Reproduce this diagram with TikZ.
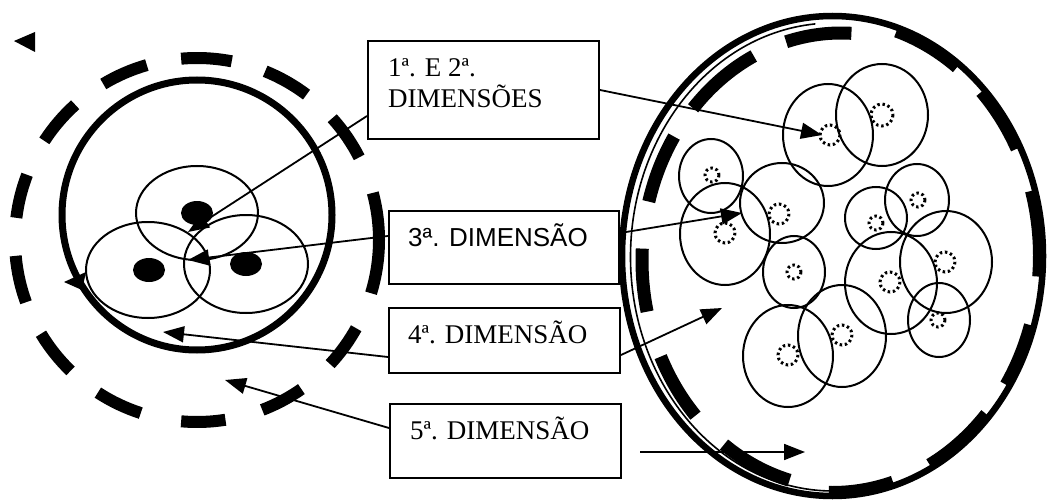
\documentclass[tikz,border=0pt]{standalone}
\usepackage{fontspec}
\setmainfont{Liberation Serif}
\newfontfamily\arialfont{Liberation Sans}
\usetikzlibrary{arrows.meta}
\begin{document}
\begin{tikzpicture}[x=1pt,y=-1pt,
  box/.style={draw, line width=2pt, rectangle, inner sep=0pt, anchor=north west, fill=white},
  lbl/.style={anchor=base west, inner sep=0pt, font=\fontsize{27}{31}\selectfont},
  slbl/.style={anchor=base west, inner sep=0pt, font=\arialfont\fontsize{26}{30}\selectfont},
  conn/.style={line width=1.8pt, -{Triangle[length=21pt,width=16pt]}},
  cell/.style={line width=2pt},
  nucleus/.style={line width=3pt, dash pattern=on 2.4pt off 2.8pt},
  thickring/.style={line width=7pt},
  ring/.style={line width=12pt},
  ringR/.style={line width=13pt},
]
\useasboundingbox (0,0) rectangle (1047,500);

% ---------- left figure ----------
\draw[thickring] (197,215) circle[radius=135];
\foreach \a/\b in {79/95, 53/68, 27/42, -17/15, -43/-29, -69/-55, -95/-81, -123/-108, -149/-134, 185/200, 159/173, 132/147, 106/121}
  \draw[ring] (197,240) ++(-\a:182) arc[start angle=-\a, end angle=-\b, radius=182];
\draw[cell] (197,213) ellipse[x radius=61, y radius=47];
\draw[cell] (148,270) ellipse[x radius=62, y radius=48];
\draw[cell] (246,264) ellipse[x radius=62, y radius=49];
\fill (197,213) ellipse[x radius=16, y radius=12];
\fill (149,270) ellipse[x radius=16, y radius=12];
\fill (246,264) ellipse[x radius=16, y radius=12];
\fill (14,41) -- (35,32) -- (35,52) -- cycle;
\fill (64,282) -- (86,272) -- (82,290) -- cycle;

% ---------- right figure ----------
\draw[line width=6.5pt] (832.5,256) ellipse[x radius=210.5, y radius=240];
\draw[line width=1.6pt] (833,257) ++(-95:202.5 and 234) arc[start angle=-95, end angle=-282, x radius=202.5, y radius=234];
% dashes standing free inside the ring
\foreach \a/\b in {87/106, 116/138, 147/165, 177/193, -155/-137, -126/-105}
  \draw[ringR] (841,260.5) ++(-\a:199 and 227.5) arc[start angle=-\a, end angle=-\b, x radius=199, y radius=227.5];
% dashes joined to the ring
\foreach \a/\b in {53/72, 27/44, -5/16, -33/-17, -62/-42, -91/-73}
  \draw[line width=11pt] (832.5,256) ++(-\a:206 and 235.5) arc[start angle=-\a, end angle=-\b, x radius=206, y radius=235.5];

% cells: centre x, centre y, rx, ry, nucleus x, nucleus y, nucleus r
\foreach \cx/\cy/\rx/\ry/\nx/\ny/\nr in {
  828/135/45/51/830/135/10,
  882/115/46/51/882/115/11,
  711/176/32/37/712/175/7,
  725/234/45/51/725/233/10,
  782/203/42/40/779/214/10,
  794/272/31/36/794/272/7,
  788/356/45/51/788/355/10,
  842/336/44/51/842/335/10,
  891/283/46/51/890/282/10,
  876/218/31/31/876/223/7,
  917/200/32/36/918/200/7,
  946/262/46/51/945/262/10,
  939/320/31/37/938/320/7}
{
  \draw[cell] (\cx,\cy) ellipse[x radius=\rx, y radius=\ry];
  \draw[nucleus] (\nx,\ny) circle[radius=\nr];
}

% ---------- boxes ----------
\node[box, minimum width=231pt, minimum height=98pt] (b1) at (367,40) {};
\node[box, minimum width=230pt, minimum height=73pt] (b3) at (388,210) {};
\node[box, minimum width=231pt, minimum height=65pt] (b4) at (388,307) {};
\node[box, minimum width=231pt, minimum height=74pt] (b5) at (389,403) {};
\node[lbl] (l1a) at (388,77) {1ª. E 2ª.};
\node[lbl] (l1b) at (388,108) {DIMENSÕES};
\node[slbl] (l3) at (408,246) {3ª. DIMENSÃO};
\node[lbl] (l4) at (408,343) {4ª. DIMENSÃO};
\node[lbl] (l5) at (410,439) {5ª. DIMENSÃO};

% ---------- connectors ----------
\coordinate (t1L) at (188,232);
\coordinate (t1R) at (822,135);
\coordinate (t3L) at (188,260);
\coordinate (t3R) at (742,213);
\coordinate (t4L) at (163,332);
\coordinate (t4R) at (722,308);
\coordinate (t5L) at (225,380);
\coordinate (s5) at (640,452);
\coordinate (t5R) at (805,452);
\draw[conn] ([yshift=-26pt]b1.west) -- (t1L);
\draw[conn] (b1.east) -- (t1R);
\draw[conn] ([yshift=11.5pt]b3.west) -- (t3L);
\draw[conn] ([yshift=14.5pt]b3.east) -- (t3R);
\draw[conn] ([yshift=-16.5pt]b4.west) -- (t4L);
\draw[conn] ([yshift=-14.5pt]b4.east) -- (t4R);
\draw[conn] ([yshift=13pt]b5.west) -- (t5L);
\draw[conn] (s5) -- (t5R);
\end{tikzpicture}
\end{document}
